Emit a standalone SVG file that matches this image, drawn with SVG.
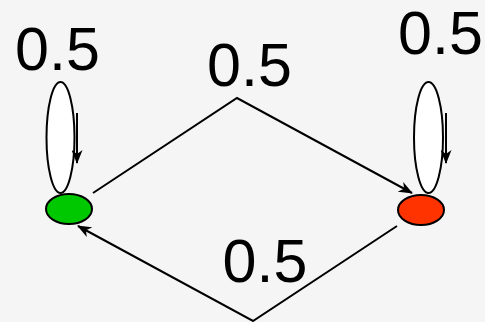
<svg xmlns="http://www.w3.org/2000/svg" width="485" height="322" viewBox="0 0 485 322">
<defs>
<marker id="arr" viewBox="0 0 14 11" refX="13" refY="5.5" markerWidth="14" markerHeight="11" markerUnits="userSpaceOnUse" orient="auto">
<path d="M0,0 L14,5.5 L0,11 L4,5.5 Z" fill="#000"/>
</marker>
</defs>
<style>
.lbl{font-family:"Liberation Sans",Arial,sans-serif;font-size:61px;fill:#000;text-anchor:middle}
.edge{fill:none;stroke:#000;stroke-width:2}
.loop{fill:#fff;stroke:#000;stroke-width:2}
.node{stroke:#000;stroke-width:2}
</style>
<rect width="485" height="322" fill="#f5f5f5"/>
<g id="connectors">
<ellipse class="loop" cx="60.5" cy="137.5" rx="14" ry="55.5"/>
<line class="edge" x1="77" y1="113" x2="77" y2="163" marker-end="url(#arr)"/>
<ellipse class="loop" cx="428.5" cy="137.5" rx="14.5" ry="55.5"/>
<line class="edge" x1="446" y1="113" x2="446" y2="163" marker-end="url(#arr)"/>
<polyline class="edge" points="93,193 237,98 412,193" marker-end="url(#arr)"/>
<polyline class="edge" points="397,226 253,321 78,226" marker-end="url(#arr)"/>
</g>
<g id="green"><ellipse class="node" cx="69" cy="209" rx="23" ry="15" fill="#00c800"/></g>
<g id="red"><ellipse class="node" cx="421" cy="210" rx="23" ry="15" fill="#ff3300"/></g>
<g id="labels">
<text class="lbl" x="57.5" y="70">0.5</text>
<text class="lbl" x="249.5" y="86">0.5</text>
<text class="lbl" x="440.5" y="54">0.5</text>
<text class="lbl" x="265" y="282">0.5</text>
</g>
</svg>
